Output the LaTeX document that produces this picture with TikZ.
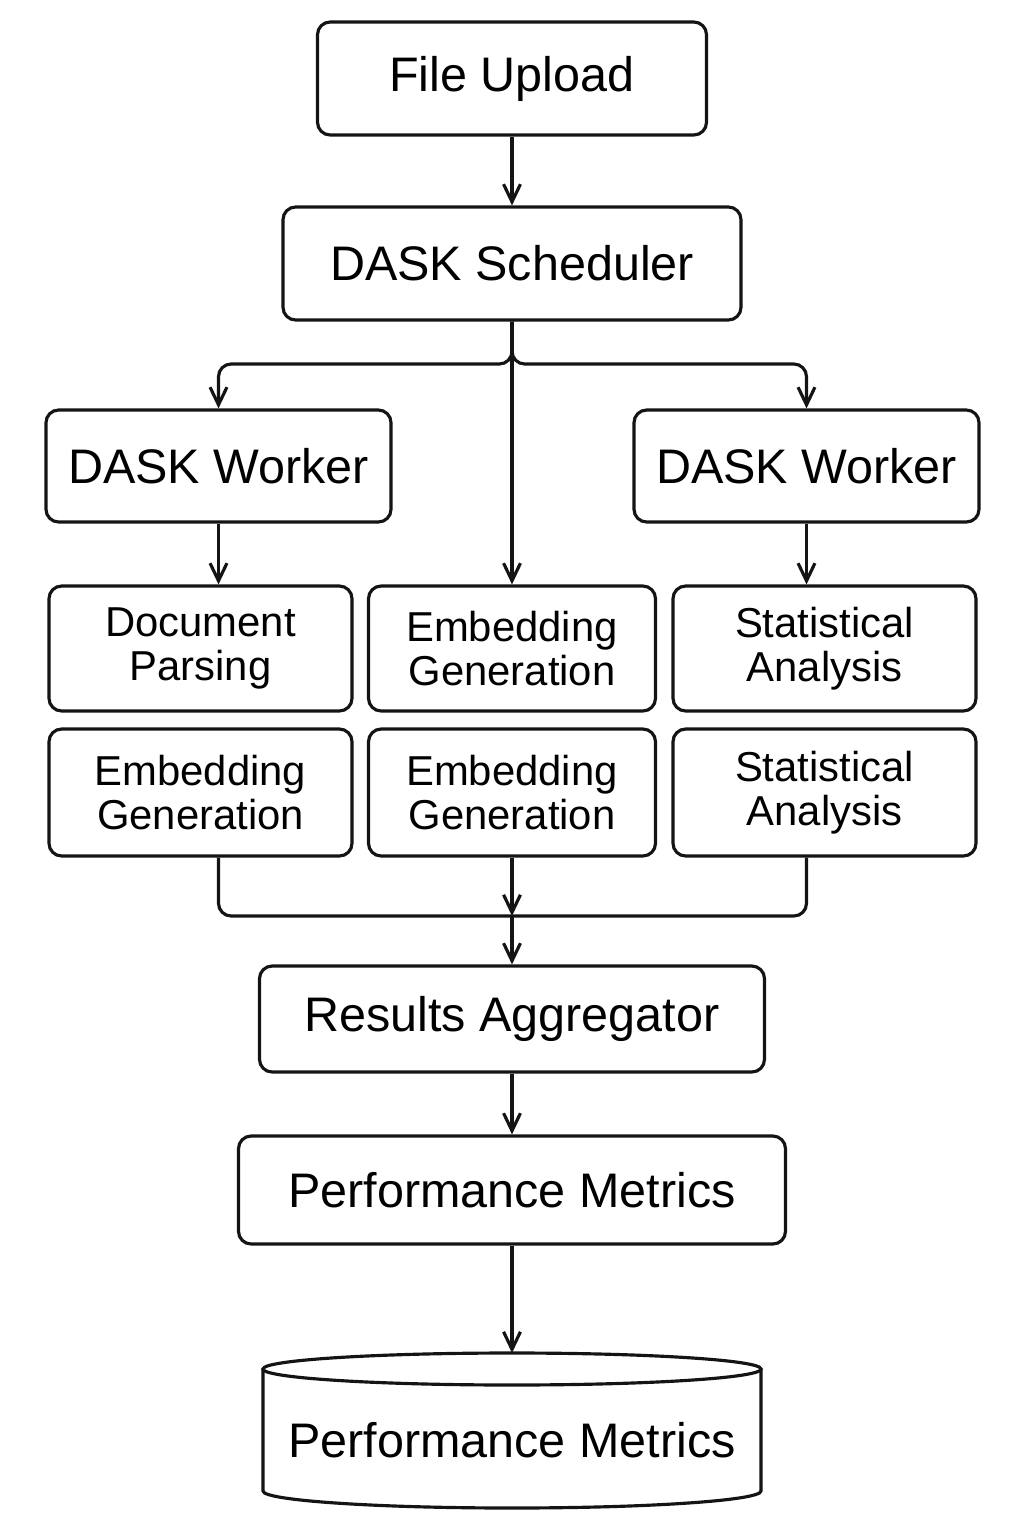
\documentclass[tikz,border=0pt]{standalone}
\usepackage{fontspec}
\setmainfont{Liberation Sans}
\usepackage{tikz}
\usetikzlibrary{arrows.meta, calc}
\definecolor{linegray}{RGB}{20, 20, 20}
\newcommand{\bigfont}{\fontsize{13.8}{15}\selectfont}
\newcommand{\smallfont}{\fontsize{11.9}{12.4}\selectfont}

\begin{document}
\begin{tikzpicture}[scale=1.0, >={Straight Barb[length=5pt, width=4.8pt]},
  box/.style={draw=linegray, line width=0.9pt, rounded corners=3.6pt, align=center, inner sep=0pt},
  bigbox/.style={box, font=\bigfont},
  taskbox/.style={box, font=\smallfont, minimum width=3.03cm, minimum height=1.25cm},
  flow/.style={draw=linegray, line width=0.9pt, ->},
  link/.style={draw=linegray, line width=0.9pt, rounded corners=3.6pt}]

  \useasboundingbox (0,0) rectangle (10.24,-15.36);

  % Top: upload and scheduler
  \node[bigbox, minimum width=3.89cm, minimum height=1.13cm] (upload) at (5.12,-0.785) {File Upload};
  \node[bigbox, minimum width=4.58cm, minimum height=1.13cm] (sched) at (5.12,-2.635) {DASK Scheduler};

  % Workers
  \node[bigbox, minimum width=3.45cm, minimum height=1.12cm] (wleft) at (2.185,-4.66) {DASK Worker};
  \node[bigbox, minimum width=3.45cm, minimum height=1.12cm] (wright) at (8.065,-4.66) {DASK Worker};

  % Task rows
  \node[taskbox] (parse) at (2.005,-6.485) {Document\\Parsing};
  \node[taskbox, minimum width=2.87cm] (embA) at (5.12,-6.485) {Embedding\\Generation};
  \node[taskbox] (statA) at (8.245,-6.485) {Statistical\\Analysis};
  \node[taskbox, minimum height=1.27cm] (embL) at (2.005,-7.925) {Embedding\\Generation};
  \node[taskbox, minimum width=2.87cm, minimum height=1.27cm] (embB) at (5.12,-7.925) {Embedding\\Generation};
  \node[taskbox, minimum height=1.27cm] (statB) at (8.245,-7.925) {Statistical\\Analysis};

  % Bottom: aggregation and metrics
  \node[bigbox, minimum width=5.05cm, minimum height=1.06cm] (agg) at (5.12,-10.19) {Results Aggregator};
  \node[bigbox, minimum width=5.47cm, minimum height=1.08cm] (perf) at (5.12,-11.90) {Performance Metrics};

  % Database cylinder
  \draw[linegray, line width=0.9pt] (2.63,-13.69) -- (2.63,-14.91)
    arc[start angle=180, end angle=360, x radius=2.49, y radius=0.17] -- (7.61,-13.69);
  \draw[linegray, line width=0.9pt] (5.12,-13.69) ellipse[x radius=2.49, y radius=0.16];
  \coordinate (dbtop) at (5.12,-13.53);
  \node[font=\bigfont] (db) at (5.12,-14.40) {Performance Metrics};

  % Connectors
  \coordinate (split) at (5.12,-3.64);
  \coordinate (merge) at (5.12,-9.16);
  \draw[flow] (upload) -- (sched);
  \draw[flow, rounded corners=3.6pt] (sched.south) -- (split) -| (wleft.north);
  \draw[flow, rounded corners=3.6pt] (sched.south) -- (split) -| (wright.north);
  \draw[flow] (sched.south) -- (embA.north);
  \draw[flow] (wleft.south) -- (wleft.south |- parse.north);
  \draw[flow] (wright.south) -- (wright.south |- statA.north);
  \draw[link] (wleft.south |- embL.south) |- (merge) -| (wright.south |- statB.south);
  \draw[flow] (embB.south) -- (merge);
  \draw[flow] (merge) -- (agg.north);
  \draw[flow] (agg) -- (perf);
  \draw[flow] (perf.south) -- (dbtop);

\end{tikzpicture}
\end{document}
